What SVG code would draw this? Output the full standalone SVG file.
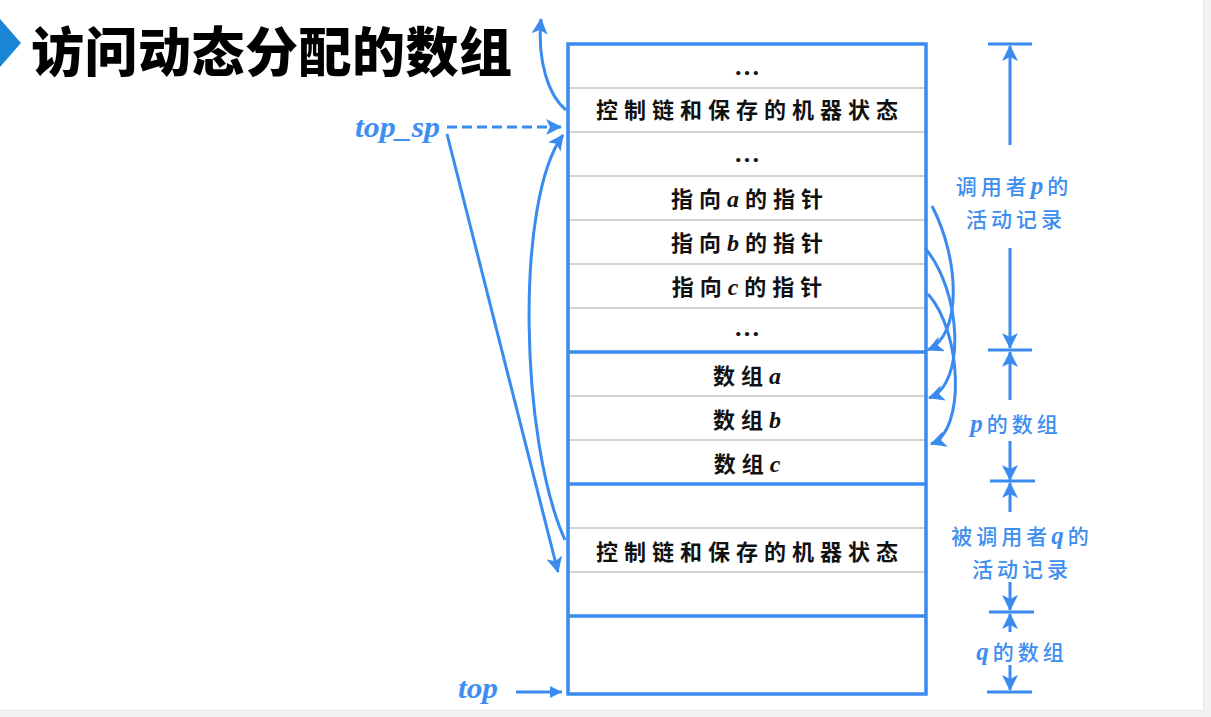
<svg xmlns="http://www.w3.org/2000/svg" width="1211" height="717" viewBox="0 0 1211 717">
<style>
.cell{font-family:"Noto Sans CJK SC","Liberation Serif",sans-serif;font-size:22px;font-weight:700;fill:#111;text-anchor:middle;letter-spacing:6px}
.dots{font-family:"Liberation Serif",serif;font-size:26px;font-weight:700;fill:#111;text-anchor:middle}
.it{font-family:"Liberation Serif",serif;font-style:italic;font-weight:700;font-size:24px}
.lbl{font-family:"Noto Sans CJK SC",sans-serif;font-size:21px;font-weight:500;fill:#3d8ef0;text-anchor:middle;letter-spacing:4px}
.thin{stroke:#a8a8a8;stroke-width:1.2}
.thick{stroke:#3a8bf0;stroke-width:3.5}
.con{fill:none;stroke:#3a8bf0;stroke-width:3}
.dim{stroke:#3a8bf0;stroke-width:3;fill:none}
.ptr{font-family:"Liberation Serif",serif;font-style:italic;font-weight:700;font-size:29px;fill:#3d8ef0}
</style>
<defs>
<marker id="ah" markerUnits="userSpaceOnUse" markerWidth="18" markerHeight="16" refX="15" refY="8" orient="auto"><path d="M0,0 L16,8 L0,16 L4,8 Z" fill="#3a8bf0"/></marker>
<marker id="ahs" markerUnits="userSpaceOnUse" markerWidth="14" markerHeight="12" refX="12" refY="6" orient="auto"><path d="M0,0 L12,6 L0,12 Z" fill="#3a8bf0"/></marker>
</defs>
<rect x="0" y="0" width="1211" height="717" fill="#f2f2f2"/>
<rect x="0" y="0" width="1204" height="711" fill="#e6e6e6"/>
<rect x="0" y="0" width="1203" height="710" fill="#ffffff"/>
<g id="title">
<polygon points="0,19 21,43 0,67" fill="#1a87d6"/>
<text x="31" y="72" font-family="Noto Sans CJK SC,sans-serif" font-size="53" font-weight="900" fill="#000" letter-spacing="0.5">访问动态分配的数组</text>
</g>
<g id="stack">
<rect x="568" y="44" width="358" height="650" fill="#fff"/>
<g class="thin">
<line x1="568" y1="88" x2="926" y2="88"/><line x1="568" y1="132" x2="926" y2="132"/><line x1="568" y1="176" x2="926" y2="176"/><line x1="568" y1="220" x2="926" y2="220"/><line x1="568" y1="264" x2="926" y2="264"/><line x1="568" y1="308" x2="926" y2="308"/>
<line x1="568" y1="396" x2="926" y2="396"/><line x1="568" y1="440" x2="926" y2="440"/>
<line x1="568" y1="528" x2="926" y2="528"/><line x1="568" y1="572" x2="926" y2="572"/>
</g>
<g class="thick">
<line x1="568" y1="352" x2="926" y2="352"/><line x1="568" y1="484" x2="926" y2="484"/><line x1="568" y1="616" x2="926" y2="616"/>
</g>
<rect x="568" y="44" width="358" height="650" fill="none" class="thick"/>
<g id="row1"><text class="dots" x="747" y="75">…</text></g>
<g id="row2"><text class="cell" x="750" y="118">控制链和保存的机器状态</text></g>
<g id="row3"><text class="dots" x="747" y="162">…</text></g>
<g id="row4"><text class="cell" x="750" y="207">指向<tspan class="it">a</tspan>的指针</text></g>
<g id="row5"><text class="cell" x="750" y="251">指向<tspan class="it">b</tspan>的指针</text></g>
<g id="row6"><text class="cell" x="750" y="295">指向<tspan class="it">c</tspan>的指针</text></g>
<g id="row7"><text class="dots" x="747" y="336">…</text></g>
<g id="row8"><text class="cell" x="750" y="384">数组<tspan class="it">a</tspan></text></g>
<g id="row9"><text class="cell" x="750" y="428">数组<tspan class="it">b</tspan></text></g>
<g id="row10"><text class="cell" x="750" y="472">数组<tspan class="it">c</tspan></text></g>
<g id="row12"><text class="cell" x="750" y="560">控制链和保存的机器状态</text></g>
</g>
<g id="top_sp"><text class="ptr" x="355" y="137" textLength="85" lengthAdjust="spacingAndGlyphs">top_sp</text></g>
<g id="top"><text class="ptr" x="458" y="698" textLength="40" lengthAdjust="spacingAndGlyphs">top</text></g>
<g id="dims" class="lbl">
<text x="1014" y="194">调用者<tspan font-family="Liberation Serif,serif" font-style="italic" font-weight="700" font-size="25">p</tspan>的</text>
<text x="1016" y="227">活动记录</text>
<text x="1016" y="432"><tspan font-family="Liberation Serif,serif" font-style="italic" font-weight="700" font-size="25">p</tspan>的数组</text>
<text x="1022" y="544">被调用者<tspan font-family="Liberation Serif,serif" font-style="italic" font-weight="700" font-size="25">q</tspan>的</text>
<text x="1022" y="577">活动记录</text>
<text x="1022" y="660"><tspan font-family="Liberation Serif,serif" font-style="italic" font-weight="700" font-size="25">q</tspan>的数组</text>
</g>
<g id="connectors">
<line x1="447" y1="127" x2="561" y2="127" class="con" stroke-dasharray="10,5" marker-end="url(#ah)"/>
<line x1="516" y1="692" x2="562" y2="692" class="con" stroke-width="2" marker-end="url(#ahs)"/>
<path d="M566,110 C549,96 537,62 541,19" class="con" marker-end="url(#ah)"/>
<path d="M565,540 C520,440 515,200 563,135" class="con" marker-end="url(#ah)"/>
<path d="M447,134 L558,572" class="con" stroke-width="3.5" marker-end="url(#ah)"/>
<path d="M932,206 C960,260 962,335 928,350" class="con" marker-end="url(#ah)"/>
<path d="M925,248 C962,292 966,385 929,398" class="con" marker-end="url(#ah)"/>
<path d="M928,294 C962,332 966,432 931,444" class="con" marker-end="url(#ah)"/>
<g class="dim">
<line x1="988" y1="44" x2="1032" y2="44"/>
<line x1="1010" y1="145" x2="1010" y2="46" marker-end="url(#ah)"/>
<line x1="1010" y1="248" x2="1010" y2="348" marker-end="url(#ah)"/>
<line x1="988" y1="350" x2="1032" y2="350"/>
<line x1="1010" y1="400" x2="1010" y2="352" marker-end="url(#ah)"/>
<line x1="1010" y1="441" x2="1010" y2="480" marker-end="url(#ah)"/>
<line x1="990" y1="481" x2="1035" y2="481"/>
<line x1="1010" y1="512" x2="1010" y2="483" marker-end="url(#ah)"/>
<line x1="1010" y1="582" x2="1010" y2="610" marker-end="url(#ah)"/>
<line x1="989" y1="612" x2="1034" y2="612"/>
<line x1="1010" y1="632" x2="1010" y2="614" marker-end="url(#ah)"/>
<line x1="1010" y1="665" x2="1010" y2="690" marker-end="url(#ah)"/>
<line x1="987" y1="692" x2="1032" y2="692"/>
</g>
</g>
</svg>
